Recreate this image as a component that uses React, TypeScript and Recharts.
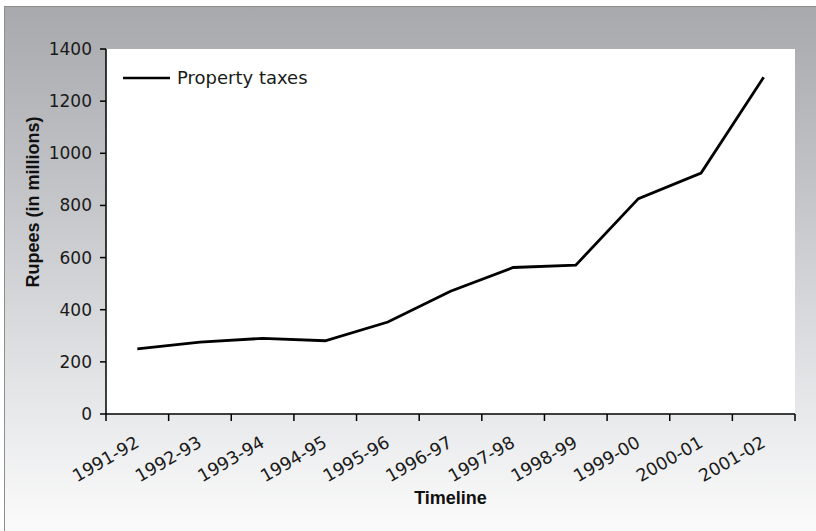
import { Label, Line, LineChart, XAxis, YAxis, CartesianGrid } from "recharts";

const years = [
  "1991-92",
  "1992-93",
  "1993-94",
  "1994-95",
  "1995-96",
  "1996-97",
  "1997-98",
  "1998-99",
  "1999-00",
  "2000-01",
  "2001-02",
];
const propertyTaxes = [250, 276, 290, 281, 353, 471, 562, 571, 826, 924, 1292];
const yTicks = [0, 200, 400, 600, 800, 1000, 1200, 1400];
const edgeTicks = [0, 1, 2, 3, 4, 5, 6, 7, 8, 9, 10, 11];
const midTicks = years.map((_, i) => i + 0.5);

const data = years.map((year, i) => ({ year, taxes: propertyTaxes[i], pos: i + 0.5 }));

const FONT = "'DejaVu Sans', sans-serif";
const BOLD_FONT = "'Liberation Sans', Arial, sans-serif";

function YearTick(props: any) {
  const { x, y, payload } = props;
  const tx = x + 3;
  const ty = y + 16;
  return (
    <text
      x={tx}
      y={ty}
      textAnchor="end"
      fontFamily={FONT}
      fontSize={17.5}
      fill="#1a1a1a"
      transform={`rotate(-30, ${tx}, ${ty})`}
    >
      {years[Math.floor(payload.value)]}
    </text>
  );
}

// short tick mark hanging under the axis at each band boundary
function EdgeTick(props: any) {
  const { x, y } = props;
  return <line x1={x} y1={y} x2={x} y2={y + 7} stroke="#000" strokeWidth={1.5} />;
}

export default function App() {
  return (
    <div style={{ position: "absolute", left: 0, top: 0, width: 816, height: 531, background: "#fff", overflow: "hidden" }}>
      <div
        style={{
          position: "absolute",
          left: 4,
          top: 6,
          width: 812,
          height: 525,
          borderLeft: "1px solid #8e8e8e",
          borderTop: "1px solid #8e8e8e",
          background: "linear-gradient(#a8a9ad, #c3c4c7 35%, #e6e7e9 75%, #fbfbfb)",
        }}
      />
      <div style={{ position: "absolute", left: 0, top: 0 }}>
        <LineChart width={816} height={531} data={data} margin={{ top: 49, right: 21, bottom: 0, left: 0 }}>
          <CartesianGrid fill="#ffffff" horizontal={false} vertical={false} />
          <XAxis
            dataKey="pos"
            xAxisId="edges"
            type="number"
            domain={[0, 11]}
            ticks={edgeTicks}
            interval={0}
            tick={<EdgeTick />}
            tickLine={false}
            tickSize={0}
            tickMargin={0}
            height={8}
            axisLine={{ stroke: "#000", strokeWidth: 1.5 }}
          />
          <XAxis
            dataKey="pos"
            xAxisId="mid"
            type="number"
            domain={[0, 11]}
            ticks={midTicks}
            tickLine={false}
            axisLine={false}
            height={109}
            interval={0}
            tick={<YearTick />}
          >
            <Label
              value="Timeline"
              position="insideBottom"
              offset={27}
              style={{ fontFamily: BOLD_FONT, fontWeight: "bold", fontSize: 18, fill: "#111" }}
            />
          </XAxis>
          <YAxis
            domain={[0, 1400]}
            ticks={yTicks}
            width={106}
            tickSize={6}
            tickMargin={8}
            axisLine={{ stroke: "#000", strokeWidth: 1.5 }}
            tickLine={{ stroke: "#000", strokeWidth: 1.5 }}
            tick={{ fontFamily: FONT, fontSize: 17, fill: "#1a1a1a" }}
          >
            <Label
              content={() => (
                <text
                  x={33}
                  y={202}
                  textAnchor="middle"
                  dominantBaseline="central"
                  transform="rotate(-90, 33, 202)"
                  fontFamily={BOLD_FONT}
                  fontWeight="bold"
                  fontSize={18}
                  fill="#111"
                >
                  Rupees (in millions)
                </text>
              )}
            />
          </YAxis>
          <Line
            xAxisId="mid"
            dataKey="taxes"
            name="Property taxes"
            type="linear"
            stroke="#000"
            strokeWidth={2.8}
            dot={false}
            activeDot={false}
            isAnimationActive={false}
          />
        </LineChart>
      </div>
      <div
        style={{
          position: "absolute",
          left: 123,
          top: 67,
          display: "flex",
          alignItems: "center",
          fontFamily: FONT,
          fontSize: 18,
          color: "#1a1a1a",
        }}
      >
        <svg width={47} height={6} style={{ marginRight: 7 }}>
          <line x1={0} y1={3} x2={47} y2={3} stroke="#000" strokeWidth={2.5} />
        </svg>
        <span>Property taxes</span>
      </div>
    </div>
  );
}
